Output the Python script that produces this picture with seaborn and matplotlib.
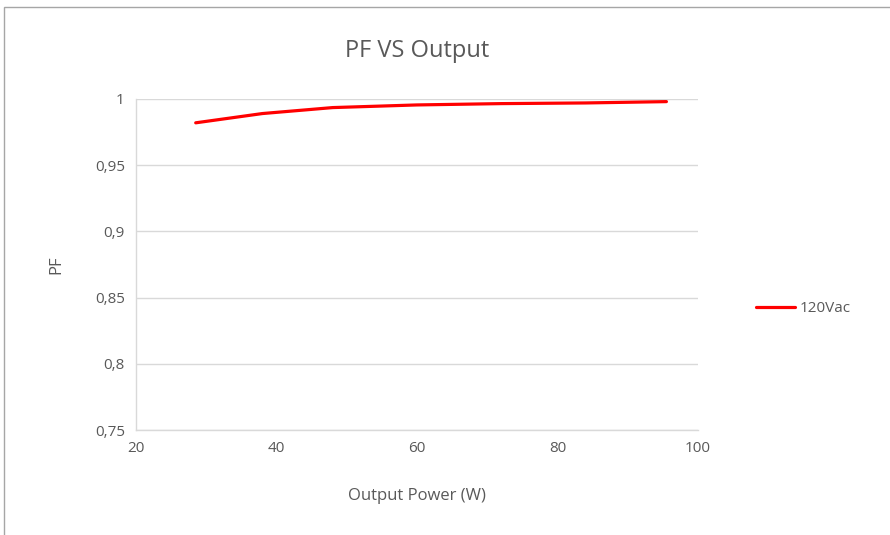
import matplotlib
matplotlib.use("Agg")
import matplotlib.pyplot as plt
import seaborn as sns
import pandas as pd
from matplotlib.ticker import FuncFormatter
from matplotlib.patches import Rectangle

# data
output_power = [28.5, 38, 48, 60, 72, 84, 95.5]
pf_120vac = [0.982, 0.989, 0.9935, 0.9955, 0.9965, 0.997, 0.998]

df = pd.DataFrame({"Output Power (W)": output_power, "PF": pf_120vac, "series": "120Vac"})

sns.set_style("white")
plt.rcParams['font.family'] = ['Open Sans', 'DejaVu Sans']
grey = "#595959"

fig = plt.figure(figsize=(8.9, 5.35), dpi=100)
ax = fig.add_axes([0.1528, 0.196, 0.6315, 0.619])

sns.lineplot(data=df, x="Output Power (W)", y="PF", hue="series",
             palette=["#ff0000"], linewidth=2.3, ax=ax)

ax.set_xlim(20, 100)
ax.set_ylim(0.75, 1.0)
ax.set_xticks([20, 40, 60, 80, 100])
ax.set_yticks([0.75, 0.8, 0.85, 0.9, 0.95, 1.0])
ax.yaxis.set_major_formatter(FuncFormatter(lambda v, p: f"{v:g}".replace(".", ",")))
ax.grid(axis="y", color="#d9d9d9", linewidth=1)
ax.tick_params(colors=grey, labelsize=11, length=0, pad=8)
for s in ["top", "right"]:
    ax.spines[s].set_visible(False)
for s in ["left", "bottom"]:
    ax.spines[s].set_color("#d9d9d9")
    ax.spines[s].set_linewidth(1)

ax.set_title("PF VS Output", fontsize=17, color=grey, pad=30)
ax.set_xlabel("Output Power (W)", fontsize=12, color=grey, labelpad=23)
ax.set_ylabel("PF", fontsize=12, color=grey, labelpad=22)

leg = ax.legend(loc="center left", bbox_to_anchor=(1.078, 0.366), frameon=False,
                fontsize=11, handlelength=2.6, handletextpad=0.3)
for t in leg.get_texts():
    t.set_color(grey)

fig.patches.append(Rectangle((4 / 890, -0.1), 1.1, 1 - 7 / 535 + 0.1,
                             transform=fig.transFigure, fill=False,
                             edgecolor="#a6a6a6", linewidth=1))

fig.savefig("out.png", dpi=100)
